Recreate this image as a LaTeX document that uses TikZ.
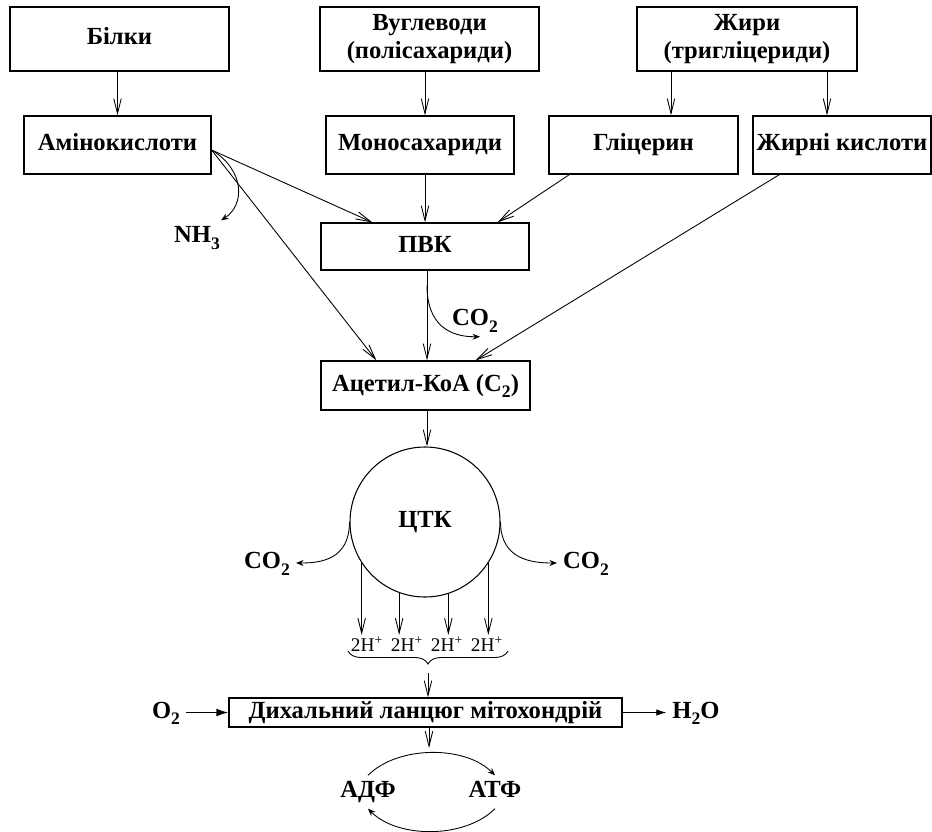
\documentclass[tikz,border=0pt]{standalone}
\usepackage{fontspec}
\setmainfont{Liberation Serif}
\usepackage{tikz}
\usetikzlibrary{arrows.meta,positioning,calc,decorations.pathreplacing}

\newcommand{\lowix}[1]{\raisebox{-0.6ex}{\fontsize{10}{10}\selectfont #1}}

\begin{document}
\begin{tikzpicture}[
  font=\fontsize{14}{16}\selectfont\bfseries,
  arr/.style={-{Straight Barb[length=3mm,width=1.5mm]}, line width=0.5pt},
  carr/.style={-{Stealth[length=1.5mm,width=1.2mm]}, line width=0.5pt},
  box/.style={draw, line width=0.7pt, inner sep=1pt, align=center, minimum height=11.6mm},
  one/.style={text height=2ex, text depth=0.6ex},
  hlab/.style={font=\fontsize{11}{13}\selectfont, inner sep=1pt},
]
\useasboundingbox (0,0) rectangle (18.64,-16.62);

% Row 1 — sources
\node[box, one, minimum width=43.8mm, minimum height=12.8mm] (bilky) at (2.39,-0.78) {Білки};
\node[box, minimum width=43.8mm, minimum height=12.8mm] (vuhl) at (8.59,-0.78) {Вуглеводи\\(полісахариди)};
\node[box, minimum width=44mm, minimum height=12.8mm] (zhyry) at (14.94,-0.78) {Жири\\(тригліцериди)};

% Row 2 — monomers
\node[box, one, minimum width=37.4mm] (amino) at (2.35,-2.90) {Амінокислоти};
\node[box, one, minimum width=37.6mm] (mono) at (8.40,-2.90) {Моносахариди};
\node[box, one, minimum width=37.8mm] (glic) at (12.87,-2.90) {Гліцерин};
\node[box, one, minimum width=35.6mm] (zhyrni) at (16.84,-2.90) {Жирні кислоти};

% Centre column
\node[box, one, minimum width=41.6mm, minimum height=9.4mm] (pvk) at (8.50,-4.93) {ПВК};
\node[box, one, minimum width=41.8mm, minimum height=9.8mm] (acetyl) at (8.51,-7.71) {Ацетил-КоА (С\lowix{2})};
\node[draw, circle, one, line width=0.6pt, minimum size=30mm] (ctk) at (8.50,-10.44) {ЦТК};
\node[box, one, minimum width=78.6mm, minimum height=5.8mm] (chain) at (8.51,-14.25) {Дихальний ланцюг мітохондрій};

% Side products
\node[one] (nh3) at (3.94,-4.74) {NH\lowix{3}};
\node[one] (co2p) at (9.50,-6.40) {CO\lowix{2}};
\node[one] (co2l) at (5.34,-11.26) {CO\lowix{2}};
\node[one] (co2r) at (11.72,-11.26) {CO\lowix{2}};
\node[one] (o2) at (3.32,-14.25) {O\lowix{2}};
\node[one] (h2o) at (13.92,-14.25) {H\lowix{2}O};
\node[one] (adf) at (7.36,-15.84) {АДФ};
\node[one] (atf) at (9.90,-15.84) {АТФ};

% 2H+ from the cycle
\node[hlab, anchor=north] (h1) at (7.34,-12.70) {2H\textsuperscript{+}};
\node[hlab, anchor=north] (h2) at (8.14,-12.70) {2H\textsuperscript{+}};
\node[hlab, anchor=north] (h3) at (8.94,-12.70) {2H\textsuperscript{+}};
\node[hlab, anchor=north] (h4) at (9.74,-12.70) {2H\textsuperscript{+}};

% Arrows, top part
\draw[arr] (bilky.south -| amino.north) -- (amino.north);
\draw[arr] (vuhl.south -| pvk.north) -- (mono.north -| pvk.north);
\draw[arr] (mono.south -| pvk.north) -- (pvk.north);
\draw[arr] (zhyry.south -| 13.42,0) -- (glic.north -| 13.42,0);
\draw[arr] (zhyry.south -| 16.54,0) -- (zhyrni.north -| 16.54,0);
\draw[arr] ([yshift=-1mm]amino.east) -- ([xshift=10.4mm]pvk.north west);
\draw[arr] ([yshift=-1mm]amino.east) -- ([xshift=11.2mm]acetyl.north west);
\draw[arr] ([xshift=4.2mm]glic.south west) -- ([xshift=-6.4mm]pvk.north east);
\draw[arr] ([xshift=5.4mm]zhyrni.south west) -- ([xshift=-11mm]acetyl.north east);
\draw[arr] (pvk.south -| 8.54,0) -- (acetyl.north -| 8.54,0);
\draw[arr] (acetyl.south -| 8.54,0) -- (ctk.north -| 8.54,0);
\draw[carr] ([yshift=-1mm]amino.east) .. controls (4.90,-3.40) and (4.90,-4.10) .. ([xshift=-1mm]nh3.north east);
\coordinate (pvkout) at ($(pvk.south -| 8.54,0)+(0,-0.3)$);
\draw[carr] (pvkout) .. controls (8.54,-6.50) and (9.00,-6.74) .. ([xshift=1mm]co2p.south);

% Cycle outputs
\draw[carr] (ctk.west) .. controls +(0,-0.75) and +(0.5,0) .. (co2l.east);
\draw[carr] (ctk.east) .. controls +(0,-0.75) and +(-0.5,0) .. (co2r.west);
\foreach \a/\h in {-147/h1, -110/h2, -72/h3, -33/h4}
  {\draw[arr] (ctk.\a) -- (ctk.\a |- \h.north);}

% Brace and respiratory chain
\draw[line width=0.5pt, decorate, decoration={brace, mirror, amplitude=2.6mm}] (6.96,-13.02) -- (10.16,-13.02);
\coordinate (brtip) at (8.56,-13.46);
\draw[arr] (brtip) -- (brtip |- chain.north);
\draw[-{Latex[length=2.4mm,width=1.6mm]}, line width=1pt] (o2) -- (chain);
\draw[-{Latex[length=2mm,width=1.3mm]}, line width=0.5pt] (chain) -- (h2o);
\coordinate (cyctop) at (8.58,-14.96);
\draw[arr] (chain.south -| cyctop) -- (cyctop);

% ADP / ATP cycle
\draw[carr] (adf.north) .. controls +(0.6,0.6) and +(-0.6,0.6) .. (atf.north);
\draw[carr] (atf.south) .. controls +(-0.6,-0.6) and +(0.6,-0.6) .. (adf.south);
\end{tikzpicture}
\end{document}
